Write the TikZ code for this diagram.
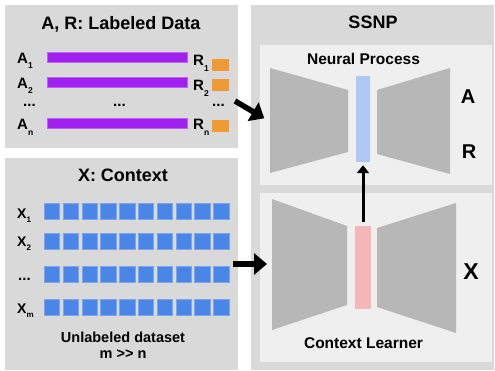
\documentclass[tikz,border=0pt]{standalone}
\usepackage{fontspec}
\setmainfont{Liberation Sans}
\usetikzlibrary{arrows.meta}
\definecolor{panelgray}{HTML}{D9D9D9}
\definecolor{innergray}{HTML}{EFEFEF}
\definecolor{trapgray}{HTML}{B7B7B7}
\definecolor{barpurple}{HTML}{A020F0}
\definecolor{rorange}{HTML}{F09A36}
\definecolor{cellblue}{HTML}{4A86E8}
\definecolor{celledge}{HTML}{7BA5EE}
\definecolor{codeblue}{HTML}{AEC9F7}
\definecolor{codepink}{HTML}{F4B6B6}
\newcommand{\sub}[1]{\raisebox{-5.5pt}{\fontsize{8.5}{8.5}\selectfont #1}}
\newcommand{\subx}[1]{\raisebox{-4pt}{\fontsize{8}{8}\selectfont #1}}
\newcommand{\ctxRow}[2]{
  \foreach \i in {0,...,9}
    \node[name=#1\i, cellbox] at (51.9+18.8*\i,#2) {};
}

\begin{document}
\begin{tikzpicture}[x=1pt, y=-1pt]
  \tikzset{panelbox/.style = { fill=panelgray, rectangle, inner sep=0 }}
  \tikzset{innerbox/.style = { fill=innergray, rectangle, inner sep=0 }}
  \tikzset{barbox/.style = { fill=barpurple, draw=barpurple!70, rectangle, inner sep=0, minimum width=140pt, minimum height=10.5pt }}
  \tikzset{rbox/.style = { fill=rorange, rectangle, inner sep=0, minimum width=17pt, minimum height=11.5pt }}
  \tikzset{cellbox/.style = { fill=cellblue, draw=celledge, line width=0.5pt, rectangle, inner sep=0, minimum width=15.5pt, minimum height=16pt }}
  \tikzset{codebox/.style = { rectangle, inner sep=0 }}
  \tikzset{titletext/.style = { font=\bfseries\fontsize{18}{20}\selectfont, inner sep=0 }}
  \tikzset{subtext/.style = { font=\bfseries\fontsize{15.5}{16}\selectfont, inner sep=0 }}
  \tikzset{rowtext/.style = { font=\bfseries\fontsize{15}{16}\selectfont, inner sep=0, anchor=base west }}
  \tikzset{xtext/.style = { font=\bfseries\fontsize{14}{16}\selectfont, inner sep=0, anchor=base west }}
  \tikzset{bigletter/.style = { font=\bfseries\fontsize{20}{22}\selectfont, inner sep=0 }}
  \tikzset{bigarrow/.style = { line width=5.5pt, -{Triangle[length=13pt,width=21pt]} }}
  \tikzset{codearrow/.style = { line width=3pt, -{Triangle[length=8pt,width=12pt]} }}
  \useasboundingbox[fill=white] (0,0) rectangle (495,371);

  % panels
  \node[name = lab, panelbox, minimum width=233pt, minimum height=143pt] at (121.5,76.5) {};
  \node[name = ctx, panelbox, minimum width=233pt, minimum height=212pt] at (121.5,264) {};
  \node[name = ssnp, panelbox, minimum width=243pt, minimum height=365pt] at (372.5,187.5) {};
  \node[name = np, innerbox, minimum width=232pt, minimum height=140pt] at (376,115) {};
  \node[name = cl, innerbox, minimum width=232pt, minimum height=169pt] at (376,277.5) {};

  \node[name = labT, titletext] at (121,24) {A, R: Labeled Data};
  \node[name = ctxT, titletext] at (123,175) {X: Context};
  \node[name = ssnpT, titletext] at (373,22.5) {SSNP};
  \node[name = npT, subtext] at (363.5,59) {Neural Process};
  \node[name = clT, subtext] at (363.5,343) {Context Learner};

  % labeled data
  \node[name = a1, rowtext] at (17,63.3) {A\sub{1}};
  \node[name = a2, rowtext] at (17,88.3) {A\sub{2}};
  \node[name = aDots, rowtext] at (23,106.5) {...};
  \node[name = an, rowtext] at (17,130) {A\sub{n}};

  \node[name = bar1, barbox] at (117,57) {};
  \node[name = bar2, barbox] at (117,82) {};
  \node[name = barDots, rowtext] at (113,106.5) {...};
  \node[name = barN, barbox] at (117,123) {};

  \node[name = r1, rowtext] at (193,66) {R\sub{1}};
  \node[name = r2, rowtext] at (193,90.7) {R\sub{2}};
  \node[name = rDots, rowtext] at (212,106.5) {...};
  \node[name = rn, rowtext] at (193,130) {R\sub{n}};

  \node[name = o1, rbox] at (220.5,65) {};
  \node[name = o2, rbox] at (220.5,85) {};
  \node[name = on, rbox] at (220.5,126) {};

  % context
  \node[name = x1, xtext] at (17,219) {X\subx{1}};
  \node[name = x2, xtext] at (17,247) {X\subx{2}};
  \node[name = xDots, rowtext] at (18,280) {...};
  \node[name = xm, xtext] at (17,313) {X\subx{m}};

  \ctxRow{c1}{211}
  \ctxRow{c2}{241}
  \ctxRow{c3}{274.5}
  \ctxRow{cm}{307}

  \node[name = unl, subtext, font=\bfseries\fontsize{14.5}{15.5}\selectfont, align=center] at (123,345) {Unlabeled dataset\\m >\kern0pt> n};

  % neural process
  \fill[trapgray] (270,68) -- (348,90) -- (348,152) -- (270,173) -- cycle;
  \fill[trapgray] (377,90) -- (450,68) -- (450,174) -- (377,154) -- cycle;
  \node[name = npCode, codebox, fill=codeblue, minimum width=14pt, minimum height=86pt] at (363,119) {};
  \node[name = outA, bigletter] at (468,97) {A};
  \node[name = outR, bigletter] at (469,152) {R};

  % context learner
  \fill[trapgray] (272,199) -- (347,226) -- (347,305) -- (272,330) -- cycle;
  \fill[trapgray] (377,228) -- (456,203) -- (456,333) -- (377,307) -- cycle;
  \node[name = clCode, codebox, fill=codepink, minimum width=16pt, minimum height=83pt] at (363,267.5) {};
  \node[name = inX, bigletter, font=\bfseries\fontsize{23}{25}\selectfont] at (471,272) {X};

  % arrows
  \coordinate (labOut) at (235,101);
  \coordinate (npIn) at (264.3,118.3);
  \coordinate (ctxOut) at (233,264);
  \coordinate (clIn) at (267,264);
  \draw [bigarrow] (labOut) -- (npIn);
  \draw [bigarrow] (ctxOut) -- (clIn);
  \draw [codearrow, shorten <=4pt, shorten >=3pt] (clCode.north) -- (npCode.south);
\end{tikzpicture}
\end{document}
